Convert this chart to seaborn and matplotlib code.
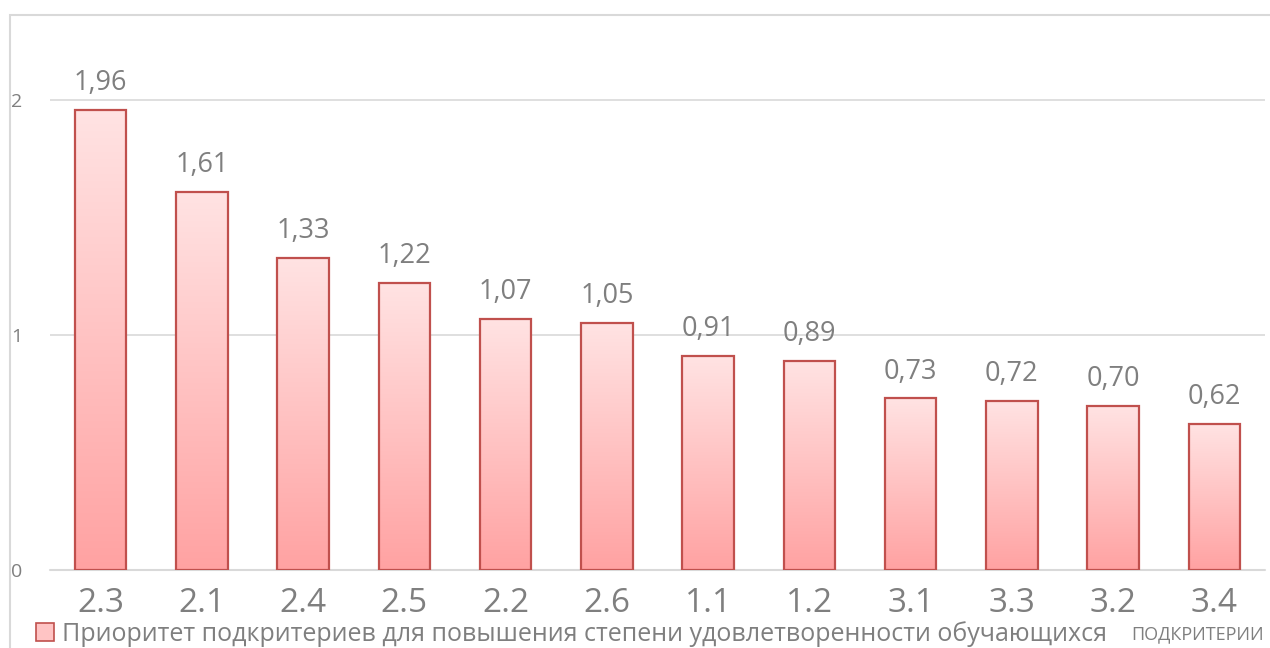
import numpy as np
import matplotlib
matplotlib.use("Agg")
import matplotlib.pyplot as plt
import seaborn as sns
import pandas as pd
from matplotlib.colors import LinearSegmentedColormap
from matplotlib.patches import Patch, Rectangle

# данные: подкритерии и их приоритет
subcriteria = ["2.3", "2.1", "2.4", "2.5", "2.2", "2.6", "1.1", "1.2", "3.1", "3.3", "3.2", "3.4"]
priority = [1.96, 1.61, 1.33, 1.22, 1.07, 1.05, 0.91, 0.89, 0.73, 0.72, 0.70, 0.62]
y_ticks = [0, 1, 2]
series_name = "Приоритет подкритериев для повышения степени удовлетворенности обучающихся"
axis_title = "ПОДКРИТЕРИИ"

df = pd.DataFrame({"sub": subcriteria, "val": priority})

sns.set_theme(style="white")
plt.rcParams["font.family"] = ["Open Sans", "DejaVu Sans"]

grey = "#7F7F7F"
edge = "#C0504D"
top_col = "#FFE3E3"
bot_col = "#FFA2A2"

fig = plt.figure(figsize=(12.7, 6.48), dpi=100)
ax = fig.add_axes([0.0394, 0.1204, 0.9567, 0.852])

sns.barplot(data=df, x="sub", y="val", ax=ax, width=0.51,
            color=top_col, edgecolor=edge, linewidth=1.6, zorder=3)

# градиентная заливка столбиков
cmap = LinearSegmentedColormap.from_list("pink", [bot_col, top_col])
grad = np.linspace(0, 1, 256).reshape(-1, 1)
for p in ax.patches:
    x0, w, h = p.get_x(), p.get_width(), p.get_height()
    p.set_facecolor("none")
    im = ax.imshow(grad, cmap=cmap, origin="lower", aspect="auto",
                   extent=[x0, x0 + w, 0, h], zorder=2)
    im.set_clip_path(p)
ax.set_xlim(-0.5, len(subcriteria) - 0.5)
ax.set_ylim(0, 2.35)

# подписи значений
for i, v in enumerate(priority):
    ax.text(i, v + 0.055, f"{v:.2f}".replace(".", ","), ha="center", va="bottom",
            fontsize=19.5, color=grey)

ax.set_yticks(y_ticks)
ax.set_yticklabels([str(t) for t in y_ticks])
ax.tick_params(axis="y", length=0, pad=20, labelcolor=grey)
ax.tick_params(axis="x", length=0, pad=12, labelsize=24, labelcolor=grey)
for lbl in ax.get_yticklabels():
    lbl.set_fontsize(14)
ax.set_xlabel("")
ax.set_ylabel("")
ax.yaxis.grid(True, color="#D9D9D9", linewidth=1.2, zorder=0)
ax.axhline(0, color="#D9D9D9", linewidth=1.5, zorder=1, clip_on=False)
for s in ax.spines.values():
    s.set_visible(False)

# рамка диаграммы
fig.patches.append(Rectangle((10 / 1270, -0.1), 1.2, (648 - 15) / 648 + 0.1,
                             transform=fig.transFigure, fill=False,
                             edgecolor="#D9D9D9", linewidth=1.5))

handle = Patch(facecolor="#FFC4C4", edgecolor=edge, linewidth=1.2)
fig.legend(handles=[handle], labels=[series_name], loc="center left",
           bbox_to_anchor=(36 / 1270, 1 - 634 / 648), frameon=False,
           fontsize=18, labelcolor=grey, handlelength=0.7, handleheight=0.7,
           handletextpad=0.35, borderaxespad=0, borderpad=0)
fig.text(1264 / 1270, 1 - 634 / 648, axis_title, ha="right", va="center",
         fontsize=13, color=grey)

fig.savefig("out.png", dpi=100)
